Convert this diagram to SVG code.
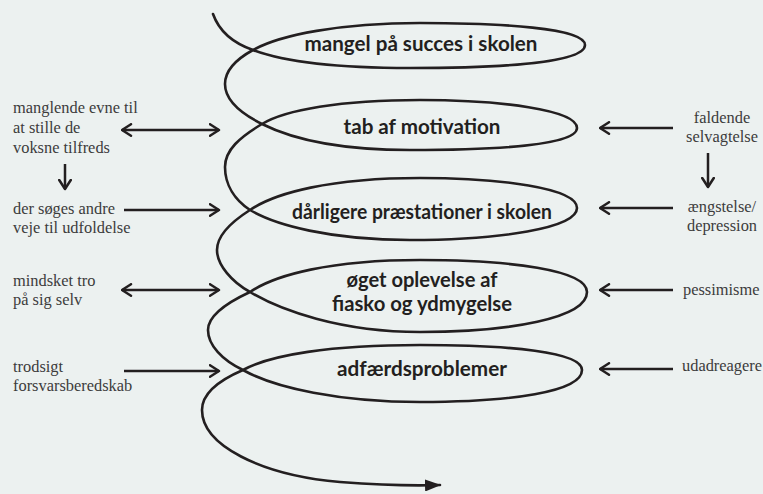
<svg xmlns="http://www.w3.org/2000/svg" width="763" height="494" viewBox="0 0 763 494">
<defs>
<style>
.bg{fill:#ecf1f0}
.coil{fill:none;stroke:#231f20;stroke-width:2.6;stroke-linecap:round}
.ln{fill:none;stroke:#231f20;stroke-width:2.5}
.main{font-family:Lato,"Open Sans","Liberation Sans",sans-serif;font-weight:bold;font-size:20px;fill:#231f20;text-anchor:middle}
.side{font-family:"Liberation Serif","Times New Roman",serif;font-size:16.4px;fill:#3c3c3c}
.mid{text-anchor:middle}
</style>
<marker id="open" viewBox="0 0 12 14" refX="10.5" refY="7" markerWidth="12" markerHeight="14" markerUnits="userSpaceOnUse" orient="auto-start-reverse">
<path d="M1.5,1.2 L10.5,7 L1.5,12.8" fill="none" stroke="#231f20" stroke-width="2.5" stroke-linecap="round" stroke-linejoin="round"/>
</marker>
<marker id="solid" viewBox="0 0 16 12" refX="15" refY="6" markerWidth="16" markerHeight="12" markerUnits="userSpaceOnUse" orient="auto">
<path d="M0,0 L16,6 L0,12 z" fill="#231f20"/>
</marker>
</defs>
<rect class="bg" x="0" y="0" width="763" height="494"/>

<g id="spiral">
<path class="coil" marker-end="url(#solid)" d="M 213 14
C 218 28, 230 42, 253 50
C 290 64, 350 68, 410 68
C 500 68, 585 63, 585 45
C 585 28, 500 23, 420 23
C 340 23, 280 35, 253 50
C 233 61, 225 72, 225 84
C 225 100, 240 113, 262 124
C 292 139, 340 150, 410 150
C 500 150, 577 145, 577 128
C 577 110, 500 100, 420 100
C 340 100, 285 110, 262 124
C 240 137, 225 150, 225 167
C 225 185, 235 200, 250 210
C 275 225, 330 240, 410 240
C 500 240, 577 228, 577 208
C 577 188, 500 178, 420 178
C 330 178, 275 193, 250 210
C 228 224, 217 237, 217 250
C 217 265, 232 282, 250 292
C 280 310, 340 332, 420 332
C 510 332, 587 318, 587 292
C 587 270, 510 260, 420 260
C 330 260, 275 275, 250 292
C 222 305, 208 318, 208 330
C 208 345, 222 360, 243 370
C 275 388, 340 402, 420 402
C 510 402, 582 392, 582 370
C 582 352, 510 345, 420 345
C 330 345, 270 355, 243 370
C 215 382, 202 395, 202 410
C 202 445, 260 475, 340 482
C 380 485, 410 486, 440 485"/>
</g>

<g id="n1"><text class="main" x="421" y="51" textLength="233" lengthAdjust="spacingAndGlyphs">mangel på succes i skolen</text></g>
<g id="n2"><text class="main" x="422" y="134" textLength="157" lengthAdjust="spacingAndGlyphs">tab af motivation</text></g>
<g id="n3"><text class="main" x="422" y="219" textLength="260" lengthAdjust="spacingAndGlyphs">dårligere præstationer i skolen</text></g>
<g id="n4"><text class="main" x="422" y="287" textLength="151" lengthAdjust="spacingAndGlyphs">øget oplevelse af</text><text class="main" x="422" y="311" textLength="180" lengthAdjust="spacingAndGlyphs">fiasko og ydmygelse</text></g>
<g id="n5"><text class="main" x="422" y="376" textLength="170" lengthAdjust="spacingAndGlyphs">adfærdsproblemer</text></g>

<g id="l1"><text class="side" x="13" y="113">manglende evne til</text><text class="side" x="13" y="133">at stille de</text><text class="side" x="13" y="153">voksne tilfreds</text></g>
<g id="l2"><text class="side" x="13" y="214">der søges andre</text><text class="side" x="13" y="233">veje til udfoldelse</text></g>
<g id="l3"><text class="side" x="13" y="286">mindsket tro</text><text class="side" x="13" y="305">på sig selv</text></g>
<g id="l4"><text class="side" x="13" y="372">trodsigt</text><text class="side" x="13" y="391">forsvarsberedskab</text></g>

<g id="r1"><text class="side mid" x="722" y="123">faldende</text><text class="side mid" x="722" y="142">selvagtelse</text></g>
<g id="r2"><text class="side mid" x="722" y="212">ængstelse/</text><text class="side mid" x="722" y="231">depression</text></g>
<g id="r3"><text class="side" x="683" y="295">pessimisme</text></g>
<g id="r4"><text class="side" x="682" y="371">udadreagere</text></g>

<g id="connectors">
<line class="ln" x1="122" y1="130" x2="219" y2="130" marker-start="url(#open)" marker-end="url(#open)"/>
<line class="ln" x1="65" y1="164" x2="65" y2="189" marker-end="url(#open)"/>
<line class="ln" x1="124" y1="210" x2="219" y2="210" marker-end="url(#open)"/>
<line class="ln" x1="122" y1="290" x2="219" y2="290" marker-start="url(#open)" marker-end="url(#open)"/>
<line class="ln" x1="124" y1="371" x2="219" y2="371" marker-end="url(#open)"/>
<line class="ln" x1="673" y1="128" x2="600" y2="128" marker-end="url(#open)"/>
<line class="ln" x1="708" y1="153" x2="708" y2="187" marker-end="url(#open)"/>
<line class="ln" x1="673" y1="208" x2="600" y2="208" marker-end="url(#open)"/>
<line class="ln" x1="673" y1="290" x2="600" y2="290" marker-end="url(#open)"/>
<line class="ln" x1="673" y1="369" x2="600" y2="369" marker-end="url(#open)"/>
</g>
</svg>
